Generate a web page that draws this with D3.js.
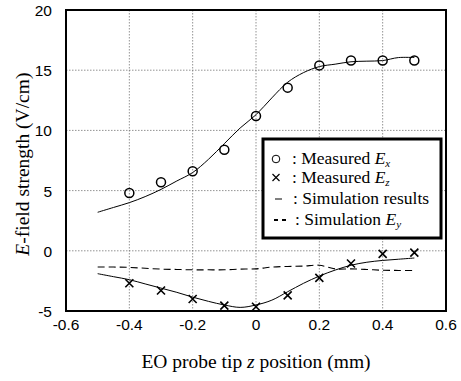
<!DOCTYPE html>
<html>
<head>
<meta charset="utf-8">
<script src="https://cdn.jsdelivr.net/npm/d3@7"></script>
<style>
  body { margin: 0; background: #fff; }
  svg { display: block; }
</style>
</head>
<body>
<svg id="chart"></svg>
<script>
// measured points
const measX = [-0.4, -0.3, -0.2, -0.1, 0, 0.1, 0.2, 0.3, 0.4, 0.5];
const measEx = [4.8, 5.7, 6.6, 8.4, 11.2, 13.55, 15.4, 15.8, 15.8, 15.8];
const measEz = [-2.7, -3.3, -4.0, -4.55, -4.65, -3.7, -2.25, -1.05, -0.25, -0.15];

// simulation curves
const simX = [-0.5, -0.45, -0.4, -0.35, -0.3, -0.25, -0.2, -0.15, -0.1, -0.05, 0, 0.05, 0.1, 0.15, 0.2, 0.25, 0.3, 0.35, 0.4, 0.45, 0.5];
const simEx = [3.2, 3.6, 4.0, 4.5, 5.1, 5.8, 6.5, 7.6, 8.9, 10.2, 11.3, 12.7, 14.0, 14.8, 15.3, 15.5, 15.7, 15.75, 15.8, 16.05, 16.05];
const simEz = [-1.9, -2.15, -2.4, -2.75, -3.1, -3.45, -3.85, -4.2, -4.5, -4.7, -4.5, -4.1, -3.4, -2.7, -2.1, -1.6, -1.2, -0.95, -0.8, -0.7, -0.6];
const simEy = [-1.35, -1.35, -1.38, -1.45, -1.52, -1.55, -1.58, -1.58, -1.58, -1.52, -1.5, -1.35, -1.3, -1.27, -1.2, -1.5, -1.5, -1.55, -1.62, -1.63, -1.63];

const xTicks = [-0.6, -0.4, -0.2, 0, 0.2, 0.4, 0.6];
const xTickLabels = ['-0.6', '-0.4', '-0.2', '0', '0.2', '0.4', '0.6'];
const yTicks = [-5, 0, 5, 10, 15, 20];

const W = 461, H = 381;
const margin = {top: 10, right: 15, bottom: 70, left: 66};

const svg = d3.select('#chart').attr('width', W).attr('height', H);

const x = d3.scaleLinear().domain([-0.6, 0.6]).range([margin.left, W - margin.right]);
const y = d3.scaleLinear().domain([-5, 20]).range([H - margin.bottom, margin.top]);

const sans = '"Liberation Sans", Arial, sans-serif';
const serif = '"Liberation Serif", "Times New Roman", serif';

// grid
svg.append('g')
   .selectAll('line')
   .data(xTicks.slice(1, -1))
   .join('line')
   .attr('x1', d => x(d)).attr('x2', d => x(d))
   .attr('y1', y(20)).attr('y2', y(-5))
   .attr('stroke', '#777').attr('stroke-width', 0.8)
   .attr('stroke-dasharray', '1.5,1.5');

svg.append('g')
   .selectAll('line')
   .data(yTicks.slice(1, -1))
   .join('line')
   .attr('x1', x(-0.6)).attr('x2', x(0.6))
   .attr('y1', d => y(d)).attr('y2', d => y(d))
   .attr('stroke', '#777').attr('stroke-width', 0.8)
   .attr('stroke-dasharray', '1.5,1.5');

// tick labels
svg.append('g')
   .selectAll('text')
   .data(yTicks)
   .join('text')
   .attr('x', 52)
   .attr('y', d => y(d) + 6)
   .attr('text-anchor', 'end')
   .attr('font-family', sans)
   .attr('font-size', 15.5)
   .text(d => String(d));

svg.append('g')
   .selectAll('text')
   .data(xTicks)
   .join('text')
   .attr('x', d => x(d))
   .attr('y', y(-5) + 19)
   .attr('text-anchor', 'middle')
   .attr('font-family', sans)
   .attr('font-size', 15.5)
   .text((d, i) => xTickLabels[i]);

// curves
const line = (ys) => d3.line()
   .x((d, i) => x(simX[i]))
   .y(d => y(d))
   .curve(d3.curveCatmullRom)(ys);

svg.append('path').attr('d', line(simEx))
   .attr('fill', 'none').attr('stroke', '#000').attr('stroke-width', 1);
svg.append('path').attr('d', line(simEz))
   .attr('fill', 'none').attr('stroke', '#000').attr('stroke-width', 1);
svg.append('path').attr('d', line(simEy))
   .attr('fill', 'none').attr('stroke', '#000').attr('stroke-width', 1.1)
   .attr('stroke-dasharray', '7,4');

// markers
svg.append('g')
   .selectAll('circle')
   .data(measEx)
   .join('circle')
   .attr('cx', (d, i) => x(measX[i]))
   .attr('cy', d => y(d))
   .attr('r', 4.5)
   .attr('fill', 'none')
   .attr('stroke', '#000')
   .attr('stroke-width', 1.5);

const cross = 4;
svg.append('g')
   .selectAll('path')
   .data(measEz)
   .join('path')
   .attr('d', (d, i) => {
       const cx = x(measX[i]), cy = y(d);
       return `M${cx - cross},${cy - cross}L${cx + cross},${cy + cross}M${cx - cross},${cy + cross}L${cx + cross},${cy - cross}`;
   })
   .attr('stroke', '#000')
   .attr('stroke-width', 1.6);

// frame
svg.append('rect')
   .attr('x', x(-0.6)).attr('y', y(20))
   .attr('width', x(0.6) - x(-0.6))
   .attr('height', y(-5) - y(20))
   .attr('fill', 'none')
   .attr('stroke', '#000')
   .attr('stroke-width', 2);

// legend
const lg = svg.append('g').attr('transform', 'translate(263,139)');
lg.append('rect')
  .attr('width', 178).attr('height', 99)
  .attr('fill', '#fff')
  .attr('stroke', '#000').attr('stroke-width', 3);

const rows = [
  {label: ': Measured ', sym: 'E', sub: 'x', x: 29},
  {label: ': Measured ', sym: 'E', sub: 'z', x: 29},
  {label: ': Simulation results', sym: '', sub: '', x: 30},
  {label: ': Simulation ', sym: 'E', sub: 'y', x: 32}
];
const rowY = [25, 44, 65, 86];

lg.append('circle').attr('cx', 13).attr('cy', rowY[0] - 5).attr('r', 3.8)
  .attr('fill', 'none').attr('stroke', '#000').attr('stroke-width', 1);
lg.append('path').attr('d', `M9.5,${rowY[1] - 9}L16.5,${rowY[1] - 2}M9.5,${rowY[1] - 2}L16.5,${rowY[1] - 9}`)
  .attr('stroke', '#000').attr('stroke-width', 1.2);
lg.append('line').attr('x1', 12).attr('x2', 19).attr('y1', rowY[2] - 5).attr('y2', rowY[2] - 5)
  .attr('stroke', '#000').attr('stroke-width', 1);
lg.append('line').attr('x1', 11).attr('x2', 27).attr('y1', rowY[3] - 5).attr('y2', rowY[3] - 5)
  .attr('stroke', '#000').attr('stroke-width', 1.8).attr('stroke-dasharray', '4,4');

rows.forEach((r, i) => {
  const t = lg.append('text')
    .attr('x', r.x)
    .attr('y', rowY[i])
    .attr('font-family', serif)
    .attr('font-size', 17.5);
  t.append('tspan').text(r.label);
  if (r.sym) {
    t.append('tspan').attr('font-style', 'italic').text(r.sym);
    t.append('tspan').attr('font-style', 'italic').attr('font-size', 11).attr('dy', 3).text(r.sub);
  }
});

// axis titles
const xt = svg.append('text')
   .attr('x', x(0))
   .attr('y', 368)
   .attr('text-anchor', 'middle')
   .attr('font-family', serif)
   .attr('font-size', 19.5);
xt.append('tspan').text('EO probe tip ');
xt.append('tspan').attr('font-style', 'italic').text('z');
xt.append('tspan').text(' position (mm)');

const yt = svg.append('text')
   .attr('transform', `translate(29,${y(7.2)}) rotate(-90)`)
   .attr('text-anchor', 'middle')
   .attr('font-family', serif)
   .attr('font-size', 19.5);
yt.append('tspan').attr('font-style', 'italic').text('E');
yt.append('tspan').text('-field strength (V/cm)');
</script>
</body>
</html>
